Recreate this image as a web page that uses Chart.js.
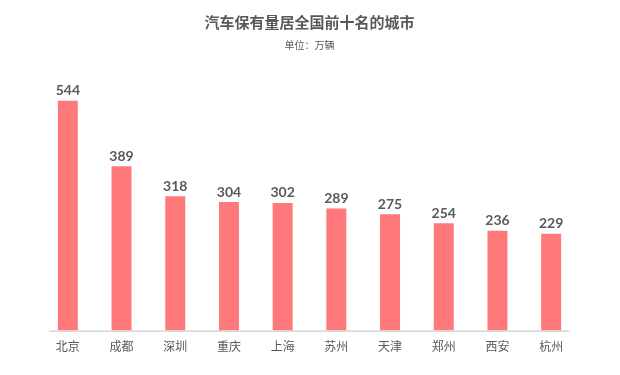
<!DOCTYPE html>
<html>
<head>
<meta charset="utf-8">
<script src="https://cdn.jsdelivr.net/npm/chart.js@4/dist/chart.umd.min.js"></script>
<style>
  html, body { margin: 0; padding: 0; background: #fff; }
  #wrap { width: 620px; height: 375px; }
</style>
</head>
<body>
<div id="wrap"><canvas id="cityCarChart"></canvas></div>
<script>
// 汽车保有量 (万辆)
var cities = ['北京', '成都', '深圳', '重庆', '上海', '苏州', '天津', '郑州', '西安', '杭州'];
var carCounts = [544, 389, 318, 304, 302, 289, 275, 254, 236, 229];

var textGray = '#595959';
var cjkFont = "'Noto Sans CJK SC', 'Noto Sans', sans-serif";

// value labels above the bars + shortened axis line
var barLabels = {
    id: 'barLabels',
    afterDatasetsDraw: function (chart) {
        var ctx = chart.ctx;
        var meta = chart.getDatasetMeta(0);
        ctx.save();
        ctx.fillStyle = textGray;
        ctx.font = "bold 14px Lato, 'Noto Sans CJK SC', sans-serif";
        ctx.textAlign = 'center';
        ctx.textBaseline = 'bottom';
        meta.data.forEach(function (bar, i) {
            ctx.fillText(chart.data.datasets[0].data[i], bar.x, bar.y - 3);
        });
        var area = chart.chartArea;
        ctx.strokeStyle = '#BFBFBF';
        ctx.lineWidth = 1;
        ctx.beginPath();
        ctx.moveTo(area.left + 8, area.bottom + 0.5);
        ctx.lineTo(area.right - 9, area.bottom + 0.5);
        ctx.stroke();
        ctx.restore();
    }
};

var ctx = document.getElementById('cityCarChart').getContext('2d');
var cityCarChart = new Chart(ctx, {
    type: 'bar',
    data: {
        labels: cities,
        datasets: [{
            label: '汽车保有量',
            data: carCounts,
            backgroundColor: '#FF787A',
            categoryPercentage: 1,
            barPercentage: 0.372
        }]
    },
    options: {
        responsive: true,
        maintainAspectRatio: false,
        animation: false,
        layout: {
            padding: { left: 41, right: 42, top: 0, bottom: 12 }
        },
        plugins: {
            legend: { display: false },
            tooltip: { enabled: false },
            title: {
                display: true,
                text: '汽车保有量居全国前十名的城市',
                color: textGray,
                font: { family: cjkFont, size: 15, weight: 'bold' },
                padding: { top: 13, bottom: 8 }
            },
            subtitle: {
                display: true,
                text: '单位：万辆',
                color: textGray,
                font: { family: cjkFont, size: 10 },
                padding: { top: 0, bottom: 26 }
            }
        },
        scales: {
            x: {
                grid: { display: false, drawTicks: false },
                border: { display: false },
                ticks: {
                    color: textGray,
                    padding: 9,
                    font: { family: cjkFont, size: 12 }
                }
            },
            y: {
                display: false,
                min: 0,
                max: 600
            }
        }
    },
    plugins: [barLabels]
});
</script>
</body>
</html>
